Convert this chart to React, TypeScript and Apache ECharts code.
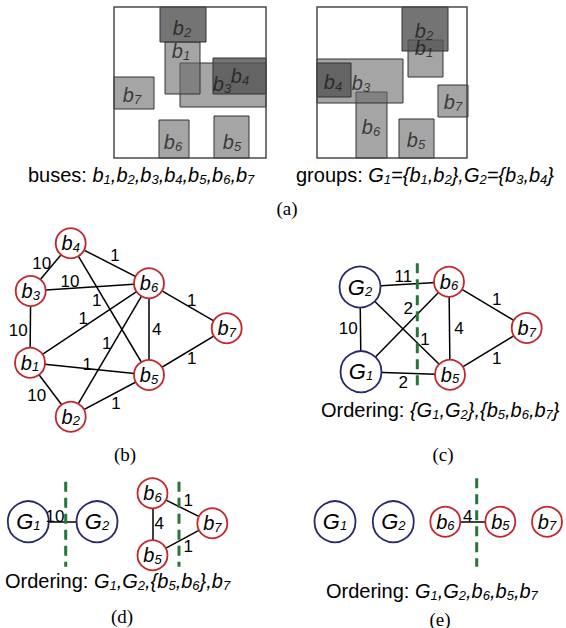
import React, { useEffect, useRef } from 'react';
import * as echarts from 'echarts';

const SANS = 'Liberation Sans';
const SERIF = 'Liberation Serif';
const INK = '#000000';
const RED = '#c4262c';
const BLUE = '#28286f';
const GREEN = '#24773a';
const LIGHT = 'rgba(105,105,105,0.6)';
const DARK = 'rgba(85,85,85,0.82)';

// ---------- panel (a): bus bounding boxes [x0, y0, x1, y1] ----------
const busNamesL = ['b7', 'b6', 'b5', 'b3', 'b1', 'b2', 'b4'];
const busBoxesL = [[114, 77, 154, 109], [159, 120, 189, 158], [214, 116, 249, 158], [180, 63, 266, 107], [165, 42, 200, 94], [160, 7, 206, 42], [213, 58, 266, 94]];
const busShadeL = [0, 0, 0, 0, 0, 1, 1];
const busLabelL = [[132, 95], [173, 142], [232, 142], [222, 84], [181, 51], [182, 28], [240, 76]];

const busNamesR = ['b7', 'b5', 'b6', 'b3', 'b4', 'b1', 'b2'];
const busBoxesR = [[438, 85, 468, 117], [399, 119, 434, 158], [356, 92, 387, 158], [317, 59, 403, 103], [317, 63, 351, 97], [408, 40, 443, 77], [402, 7, 448, 51]];
const busShadeR = [0, 0, 0, 0, 1, 0, 1];
const busLabelR = [[453, 102], [416, 140], [371, 127], [361, 83], [333, 82], [424, 48], [424, 31]];

// ---------- panel (b) ----------
const nodesB: [string, number, number][] = [['b4', 70.7, 243.3], ['b3', 30.7, 291], ['b6', 149, 283.3], ['b7', 226.7, 328.3], ['b1', 30, 362.7], ['b5', 149, 375], ['b2', 70.7, 416.7]];
const edgesB: [string, string, number][] = [['b3', 'b4', 10], ['b4', 'b6', 1], ['b4', 'b5', 1], ['b3', 'b6', 10], ['b3', 'b1', 10], ['b1', 'b6', 1], ['b1', 'b5', 1], ['b1', 'b2', 10], ['b2', 'b6', 1], ['b2', 'b5', 1], ['b6', 'b5', 4], ['b6', 'b7', 1], ['b5', 'b7', 1]];
const weightPosB = [[41.7, 263.3], [115, 255], [96.7, 300], [70, 281.7], [18.3, 330], [83.3, 318], [87.3, 364], [36.7, 395], [106.7, 343], [116, 403], [156.7, 329], [191.7, 300], [191.7, 358]];

// ---------- panel (c) ----------
const nodesC: [string, number, number][] = [['G2', 360, 287], ['G1', 361, 371.7], ['b6', 449, 281.7], ['b5', 450, 374.7], ['b7', 526.7, 328]];
const edgesC: [string, string, number][] = [['G1', 'G2', 10], ['G2', 'b6', 11], ['G1', 'b6', 2], ['G2', 'b5', 1], ['G1', 'b5', 2], ['b6', 'b5', 4], ['b6', 'b7', 1], ['b5', 'b7', 1]];
const weightPosC = [[348.3, 328.3], [403.3, 276], [408.3, 308.3], [425, 339.3], [403.3, 382.3], [459, 328.3], [496.7, 299.3], [496.7, 358]];
const cutsC = [[417.3, 263.3, 388.3]];

// ---------- panel (d) ----------
const nodesD: [string, number, number][] = [['G1', 28.3, 521.7], ['G2', 97, 521.7], ['b6', 152.5, 493.3], ['b5', 152.5, 555.3], ['b7', 212.3, 523.2]];
const edgesD: [string, string, number][] = [['G1', 'G2', 10], ['b6', 'b5', 4], ['b6', 'b7', 1], ['b5', 'b7', 1]];
const weightPosD = [[55, 516.7], [159.3, 523.3], [188.3, 500.7], [188.3, 546]];
const cutsD = [[65.7, 481.7, 566.7], [179, 481.7, 566.7]];

// ---------- panel (e) ----------
const nodesE: [string, number, number][] = [['G1', 335, 521.7], ['G2', 393.3, 521.7], ['b6', 445.3, 521.7], ['b5', 500.3, 521.7], ['b7', 547, 521.7]];
const edgesE: [string, string, number][] = [['b6', 'b5', 4]];
const weightPosE = [[467.7, 516.7]];
const cutsE = [[476.7, 478.3, 566.7]];

const subStyle = (size: number, shift: number) => ({ fontFamily: SANS, fontStyle: 'italic', fontSize: size, color: INK, padding: [shift * 2, 0, 0, 0] });
const subFill = (size: number, shift: number) => ({ fontFamily: SANS, fontStyle: 'italic', fontSize: size, fill: INK, padding: [shift * 2, 0, 0, 0] });

function graphSeries(nodes: [string, number, number][], edges: [string, string, number][]) {
  return {
    type: 'graph', coordinateSystem: 'cartesian2d', layout: 'none', z: 3, silent: true,
    data: nodes.map(([name, x, y]) => {
      const g = name[0] === 'G';
      return {
        name, value: [x, y], symbol: 'circle', symbolSize: g ? 41 : 30,
        itemStyle: { color: '#ffffff', borderColor: g ? BLUE : RED, borderWidth: 1.8 },
        label: {
          show: true, position: 'inside', formatter: name[0] + '{s|' + name.slice(1) + '}',
          fontFamily: SANS, fontStyle: 'italic', fontSize: g ? 22 : 20, color: INK, lineHeight: 30,
          rich: { s: subStyle(13, 4) },
        },
      };
    }),
    links: edges.map(([s, t]) => ({ source: s, target: t })),
    lineStyle: { color: '#000000', width: 1.5, opacity: 1, curveness: 0 },
    emphasis: { disabled: true },
  };
}

function weightSeries(pos: number[][], edges: [string, string, number][]) {
  return {
    type: 'scatter', z: 6, silent: true, symbolSize: 1, itemStyle: { color: 'rgba(255,255,255,0)' },
    data: pos.map((p, i) => ({ value: p, name: String(edges[i][2]) })),
    label: { show: true, position: 'inside', formatter: '{b}', fontFamily: SANS, fontSize: 17, color: INK, opacity: 1 },
  };
}

function cutSeries(cuts: number[][]) {
  return cuts.map((c) => ({
    type: 'line', z: 8, silent: true, symbol: 'none',
    data: [[c[0], c[1]], [c[0], c[2]]],
    lineStyle: { color: GREEN, width: 3, type: [10, 6] },
  }));
}

function boxSeries(boxes: number[][], shades: number[]) {
  return {
    type: 'custom', z: 2, silent: true,
    encode: { x: [0, 2], y: [1, 3] },
    data: boxes.map((b, i) => [b[0], b[1], b[2], b[3], shades[i]]),
    renderItem: (params: any, api: any) => {
      const p0 = api.coord([api.value(0), api.value(1)]);
      const p1 = api.coord([api.value(2), api.value(3)]);
      return {
        type: 'rect',
        shape: { x: p0[0], y: p0[1], width: p1[0] - p0[0], height: p1[1] - p0[1] },
        style: { fill: api.value(4) === 1 ? DARK : LIGHT, stroke: '#333333', lineWidth: 1 },
      };
    },
  };
}

function busLabelSeries(pos: number[][], names: string[]) {
  return {
    type: 'scatter', z: 4, silent: true, symbolSize: 1, itemStyle: { color: 'rgba(255,255,255,0)' },
    data: pos.map((p, i) => ({ value: p, name: names[i] })),
    label: {
      show: true, position: 'inside',
      formatter: (p: any) => p.name[0] + '{s|' + p.name.slice(1) + '}',
      fontFamily: SANS, fontStyle: 'italic', fontSize: 20, color: '#1a1a1a', lineHeight: 30,
      rich: { s: { ...subStyle(13, 4), color: '#1a1a1a' } },
    },
  };
}

function caption(text: string, x: number, y: number) {
  return {
    type: 'text', z: 10, silent: true, x, y,
    style: {
      text, textAlign: 'left', textVerticalAlign: 'middle',
      fontFamily: SANS, fontStyle: 'italic', fontSize: 20, fill: INK, lineHeight: 30,
      rich: {
        n: { fontFamily: SANS, fontStyle: 'normal', fontSize: 20, fill: INK },
        s: subFill(13, 4),
      },
    },
  };
}

function panelTag(text: string, x: number, y: number) {
  return {
    type: 'text', z: 10, silent: true, x, y,
    style: { text, textAlign: 'center', textVerticalAlign: 'middle', fontFamily: SERIF, fontSize: 19, fill: INK },
  };
}

const frames = [[114, 7, 266, 158], [317, 7, 467, 158]];

const option: any = {
  animation: false,
  grid: { left: 0, right: 0, top: 0, bottom: 0 },
  xAxis: { type: 'value', min: 0, max: 566, show: false },
  yAxis: { type: 'value', min: 0, max: 628, inverse: true, show: false },
  series: [
    boxSeries(busBoxesL, busShadeL),
    boxSeries(busBoxesR, busShadeR),
    busLabelSeries(busLabelL, busNamesL),
    busLabelSeries(busLabelR, busNamesR),
    graphSeries(nodesB, edgesB), weightSeries(weightPosB, edgesB),
    graphSeries(nodesC, edgesC), weightSeries(weightPosC, edgesC),
    graphSeries(nodesD, edgesD), weightSeries(weightPosD, edgesD),
    graphSeries(nodesE, edgesE), weightSeries(weightPosE, edgesE),
    ...cutSeries(cutsC), ...cutSeries(cutsD), ...cutSeries(cutsE),
  ],
  graphic: [
    ...frames.map((f) => ({
      type: 'rect', z: 9, silent: true,
      shape: { x: f[0], y: f[1], width: f[2] - f[0], height: f[3] - f[1] },
      style: { fill: 'none', stroke: '#4a4a4a', lineWidth: 1.5 },
    })),
    caption('{n|buses: }b{s|1},b{s|2},b{s|3},b{s|4},b{s|5},b{s|6},b{s|7}', 28, 175),
    caption('{n|groups: }G{s|1}={b{s|1},b{s|2}},G{s|2}={b{s|3},b{s|4}}', 296, 175),
    caption('{n|Ordering: }{G{s|1},G{s|2}},{b{s|5},b{s|6},b{s|7}}', 321, 410),
    caption('{n|Ordering: }G{s|1},G{s|2},{b{s|5},b{s|6}},b{s|7}', 5, 581),
    caption('{n|Ordering: }G{s|1},G{s|2},b{s|6},b{s|5},b{s|7}', 326, 591),
    panelTag('(a)', 287, 208),
    panelTag('(b)', 125, 454),
    panelTag('(c)', 443, 454),
    panelTag('(d)', 122, 616),
    panelTag('(e)', 440, 619),
  ],
};

export default function App() {
  const ref = useRef<HTMLDivElement>(null);
  useEffect(() => {
    const chart = echarts.init(ref.current!, null, { renderer: 'svg' });
    chart.setOption(option);
    return () => chart.dispose();
  }, []);
  return <div ref={ref} style={{ position: 'absolute', left: 0, top: 0, width: 566, height: 628, background: '#ffffff' }} />;
}
